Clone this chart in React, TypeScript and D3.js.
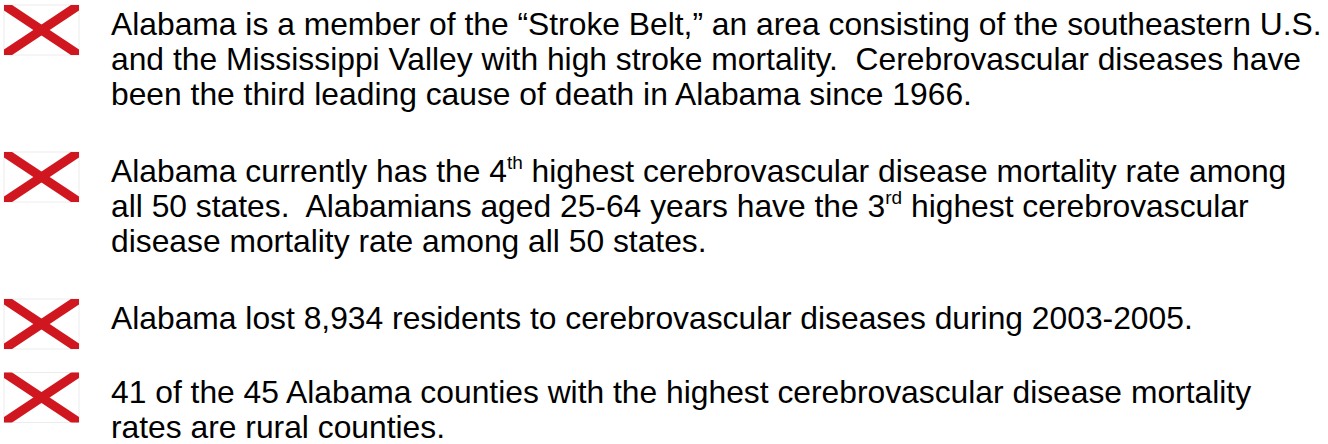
import React, { useEffect, useRef } from 'react';
import * as d3 from 'd3';

// bullet text, one entry per bullet; "^xx" marks a superscript
const bullets: string[][] = [
  [
    'Alabama is a member of the \u201cStroke Belt,\u201d an area consisting of the southeastern U.S.',
    'and the Mississippi Valley with high stroke mortality.  Cerebrovascular diseases have',
    'been the third leading cause of death in Alabama since 1966.',
  ],
  [
    'Alabama currently has the 4^th highest cerebrovascular disease mortality rate among',
    'all 50 states.  Alabamians aged 25-64 years have the 3^rd highest cerebrovascular',
    'disease mortality rate among all 50 states.',
  ],
  ['Alabama lost 8,934 residents to cerebrovascular diseases during 2003-2005.'],
  [
    '41 of the 45 Alabama counties with the highest cerebrovascular disease mortality',
    'rates are rural counties.',
  ],
];

const W = 1328;
const H = 444;

const App: React.FC = () => {
  const ref = useRef<SVGSVGElement>(null);

  useEffect(() => {
    if (!ref.current) return;
    const svg = d3.select(ref.current);
    svg.selectAll('*').remove();

    const flagW = 75;
    const flagH = 50;
    const red = '#d0171f';
    const fontSize = 31.8;
    const lineH = 35;

    // slot scale: each bullet takes (lines + 1) slots
    const slots: number[] = [];
    let acc = 0;
    bullets.forEach(b => {
      slots.push(acc);
      acc += b.length + 1;
    });
    const y = d3.scaleLinear().domain([0, 1]).range([5, 41.75]);

    const defs = svg.append('defs');
    defs.append('clipPath')
      .attr('id', 'flagClip')
      .append('rect')
      .attr('width', flagW)
      .attr('height', flagH);

    const g = svg.append('g')
      .attr('font-family', '"Liberation Sans", Arial, Helvetica, sans-serif')
      .attr('font-size', fontSize)
      .attr('fill', '#000');

    bullets.forEach((lines, i) => {
      const top = y(slots[i]);

      const flag = g.append('g').attr('transform', `translate(4,${top})`);
      flag.append('rect')
        .attr('width', flagW)
        .attr('height', flagH)
        .attr('fill', '#fff')
        .attr('stroke', '#ececec')
        .attr('stroke-width', 1);
      const cross = flag.append('g').attr('clip-path', 'url(#flagClip)');
      [[0, 0, flagW, flagH], [flagW, 0, 0, flagH]].forEach(([x1, y1, x2, y2]) => {
        cross.append('line')
          .attr('x1', x1).attr('y1', y1)
          .attr('x2', x2).attr('y2', y2)
          .attr('stroke', red)
          .attr('stroke-width', 9);
      });

      lines.forEach((line, j) => {
        const t = g.append('text')
          .attr('x', 111)
          .attr('y', top + 30 + j * lineH)
          .style('white-space', 'pre');
        const parts = line.split(/\^(\w+)/);
        parts.forEach((p, k) => {
          if (k % 2 === 1) {
            t.append('tspan')
              .attr('font-size', 19)
              .attr('dy', -13)
              .text(p);
          } else {
            t.append('tspan')
              .attr('dy', k > 0 ? 13 : 0)
              .text(p);
          }
        });
      });
    });
  }, []);

  return (
    <svg
      ref={ref}
      width={W}
      height={H}
      style={{ position: 'absolute', left: 0, top: 0, background: '#fff' }}
    ></svg>
  );
};

export default App;
